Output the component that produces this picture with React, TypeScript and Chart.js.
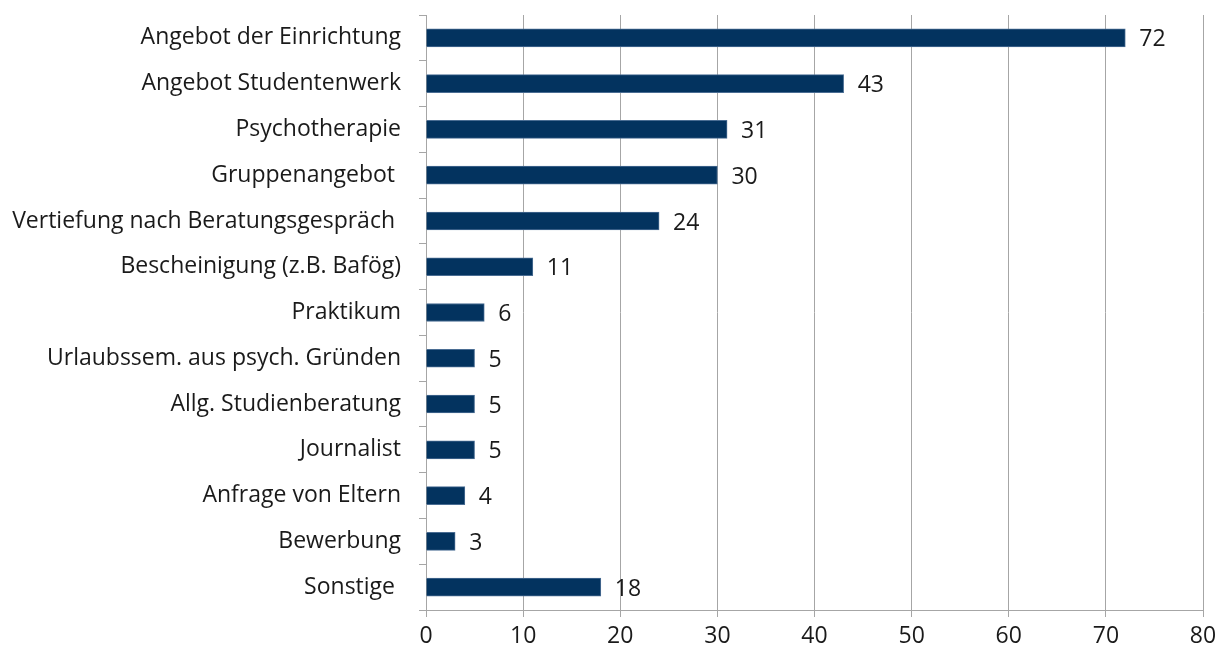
import React, { useEffect, useRef } from "react";
import { Chart, registerables } from "chart.js";
Chart.register(...registerables);

const categories = [
  "Angebot der Einrichtung",
  "Angebot Studentenwerk",
  "Psychotherapie",
  "Gruppenangebot ",
  "Vertiefung nach Beratungsgespräch ",
  "Bescheinigung (z.B. Bafög)",
  "Praktikum",
  "Urlaubssem. aus psych. Gründen",
  "Allg. Studienberatung",
  "Journalist",
  "Anfrage von Eltern",
  "Bewerbung",
  "Sonstige ",
];
const values = [72, 43, 31, 30, 24, 11, 6, 5, 5, 5, 4, 3, 18];
const xTicks = [0, 10, 20, 30, 40, 50, 60, 70, 80];

const FONT = "'Open Sans'";
const FSIZE = 23;

const valueLabels = {
  id: "valueLabels",
  afterDatasetsDraw(chart: any) {
    const ctx = chart.ctx;
    const meta = chart.getDatasetMeta(0);
    ctx.save();
    ctx.font = `${FSIZE}px ${FONT}`;
    ctx.fillStyle = "#1a1a1a";
    ctx.textAlign = "left";
    ctx.textBaseline = "middle";
    meta.data.forEach((bar: any, i: number) => {
      ctx.fillText(String(values[i]), bar.x + 14, bar.y + 2);
    });
    ctx.restore();
  },
};

export default function App() {
  const ref = useRef<HTMLCanvasElement>(null);
  useEffect(() => {
    const chart = new Chart(ref.current!, {
      type: "bar",
      data: {
        labels: categories,
        datasets: [
          {
            data: values,
            backgroundColor: "#03335f",
            borderColor: "#4a6d93",
            borderWidth: 1,
            barThickness: 18,
          },
        ],
      },
      options: {
        indexAxis: "y",
        animation: false,
        responsive: false,
        maintainAspectRatio: false,
        layout: { padding: { top: 15, right: 22, left: 0, bottom: 0 } },
        plugins: { legend: { display: false }, tooltip: { enabled: false } },
        scales: {
          x: {
            min: 0,
            max: 80,
            afterBuildTicks(scale: any) {
              scale.ticks = xTicks.map((v) => ({ value: v }));
            },
            afterFit(scale: any) {
              scale.height = 45;
            },
            grid: { color: "#a6a6a6", lineWidth: 1, tickLength: 7, drawTicks: true },
            border: { color: "#a6a6a6", width: 1 },
            ticks: { font: { family: FONT, size: FSIZE }, color: "#1a1a1a", padding: 6, maxRotation: 0 },
          },
          y: {
            afterFit(scale: any) {
              scale.width = 426;
              scale.paddingTop = 0;
              scale.paddingBottom = 0;
            },
            grid: { offset: true, drawOnChartArea: false, color: "#a6a6a6", tickLength: 7 },
            border: { color: "#a6a6a6", width: 1 },
            ticks: { font: { family: FONT, size: FSIZE }, color: "#1a1a1a", padding: 18, autoSkip: false },
          },
        },
      },
      plugins: [valueLabels],
    });
    return () => chart.destroy();
  }, []);
  return (
    <div style={{ position: "absolute", left: 0, top: 0, width: 1225, height: 655 }}>
      <canvas ref={ref} width={1225} height={655} />
    </div>
  );
}
